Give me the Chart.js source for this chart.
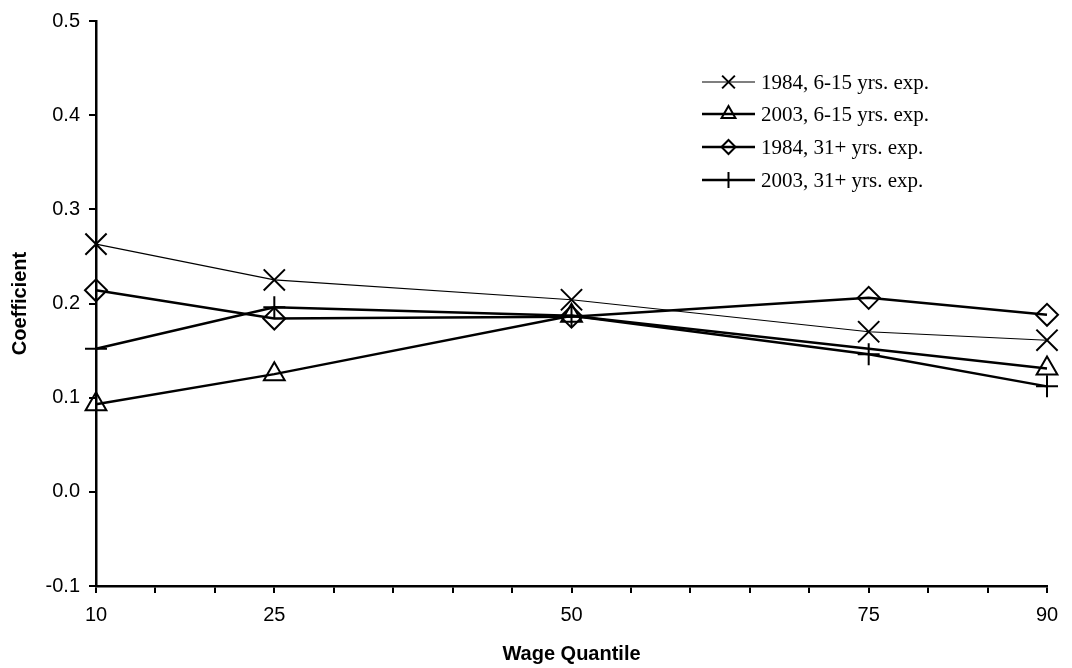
<!DOCTYPE html>
<html>
<head>
<meta charset="utf-8">
<script src="https://cdn.jsdelivr.net/npm/chart.js@4/dist/chart.umd.min.js"></script>
<style>
  html, body { margin: 0; padding: 0; background: #fff; }
  #wrap { width: 1072px; height: 668px; }
</style>
</head>
<body>
<div id="wrap"><canvas id="grafica" width="1072" height="668"></canvas></div>
<script>
// datos
const quantiles = [10, 25, 50, 75, 90];
const tickLabels = [10, 25, 50, 75, 90];
const coef1984young = [0.263, 0.225, 0.204, 0.170, 0.161];
const coef2003young = [0.093, 0.125, 0.187, null, 0.131];
const coef1984old = [0.214, 0.184, 0.186, 0.206, 0.188];
const coef2003old = [0.152, 0.196, 0.187, 0.146, 0.112];
const seriesNames = ["1984, 6-15 yrs. exp.", "2003, 6-15 yrs. exp.", "1984, 31+ yrs. exp.", "2003, 31+ yrs. exp."];

const toPoints = vals => quantiles.map((q, i) => ({ x: q, y: vals[i] }));

// estilo de cada serie
const estilos = [
    { data: coef1984young, pointStyle: "crossRot", radius: 15, lineWidth: 1.2, legendRadius: 9 },
    { data: coef2003young, pointStyle: "triangle", radius: 12, lineWidth: 2.5, legendRadius: 8 },
    { data: coef1984old, pointStyle: "rectRot", radius: 11, lineWidth: 2.5, legendRadius: 7 },
    { data: coef2003old, pointStyle: "cross", radius: 11, lineWidth: 2.5, legendRadius: 8 },
];

// leyenda dibujada dentro del area del grafico
const leyenda = {
    id: "leyenda",
    afterDraw(chart) {
        const ctx = chart.ctx;
        const x0 = 702, x1 = 755, xt = 761;
        const ys = [82, 114, 147, 180];
        ctx.save();
        estilos.forEach((e, i) => {
            const y = ys[i];
            ctx.strokeStyle = "#000";
            ctx.lineWidth = e.lineWidth;
            ctx.beginPath();
            ctx.moveTo(x0, y);
            ctx.lineTo(x1, y);
            ctx.stroke();
            ctx.fillStyle = "rgba(0,0,0,0)";
            ctx.lineWidth = 2;
            Chart.helpers.drawPoint(ctx, { pointStyle: e.pointStyle, radius: e.legendRadius, rotation: 0, borderWidth: 2 }, (x0 + x1) / 2, y);
            ctx.fillStyle = "#000";
            ctx.font = "21px 'Liberation Serif', 'Times New Roman', serif";
            ctx.textBaseline = "middle";
            ctx.textAlign = "left";
            ctx.fillText(seriesNames[i], xt, y + 1);
        });
        ctx.restore();
    }
};

Chart.defaults.font.family = "'Liberation Sans', Arial, sans-serif";
Chart.defaults.color = "#000";

new Chart(document.getElementById("grafica").getContext("2d"), {
    type: "line",
    data: {
        datasets: estilos.map((e, i) => ({
            label: seriesNames[i],
            data: toPoints(e.data),
            borderColor: "#000",
            borderWidth: e.lineWidth,
            pointStyle: e.pointStyle,
            pointRadius: e.radius,
            pointHoverRadius: e.radius,
            pointBorderWidth: 2,
            pointBorderColor: "#000",
            pointBackgroundColor: "rgba(0,0,0,0)",
            tension: 0,
            spanGaps: true,
            clip: false,
        })),
    },
    options: {
        responsive: false,
        animation: false,
        devicePixelRatio: 1,
        layout: { padding: { top: 17, right: 25, left: 0, bottom: 0 } },
        plugins: {
            legend: { display: false },
            tooltip: { enabled: false },
        },
        scales: {
            x: {
                type: "linear",
                min: 10,
                max: 90,
                afterFit: s => { s.height = 82; },
                ticks: {
                    stepSize: 5,
                    autoSkip: false,
                    maxRotation: 0,
                    padding: 10,
                    font: { size: 20 },
                    callback: v => tickLabels.includes(v) ? String(v) : "",
                },
                grid: { drawOnChartArea: false, drawTicks: true, tickLength: 7, color: "#000", lineWidth: 2 },
                border: { color: "#000", width: 2.5 },
                title: { display: true, text: "Wage Quantile", font: { size: 20, weight: "bold" }, padding: { top: 4, bottom: 2 } },
            },
            y: {
                min: -0.1,
                max: 0.5,
                afterFit: s => { s.width = 96; },
                ticks: {
                    stepSize: 0.1,
                    padding: 9,
                    font: { size: 20 },
                    callback: v => (Math.abs(v) < 1e-9 ? 0 : v).toFixed(1),
                },
                grid: { drawOnChartArea: false, drawTicks: true, tickLength: 7, color: "#000", lineWidth: 2 },
                border: { color: "#000", width: 2.5 },
                title: { display: true, text: "Coefficient", font: { size: 20, weight: "bold" }, padding: { top: 8, bottom: 0 } },
            },
        },
    },
    plugins: [leyenda],
});
</script>
</body>
</html>
